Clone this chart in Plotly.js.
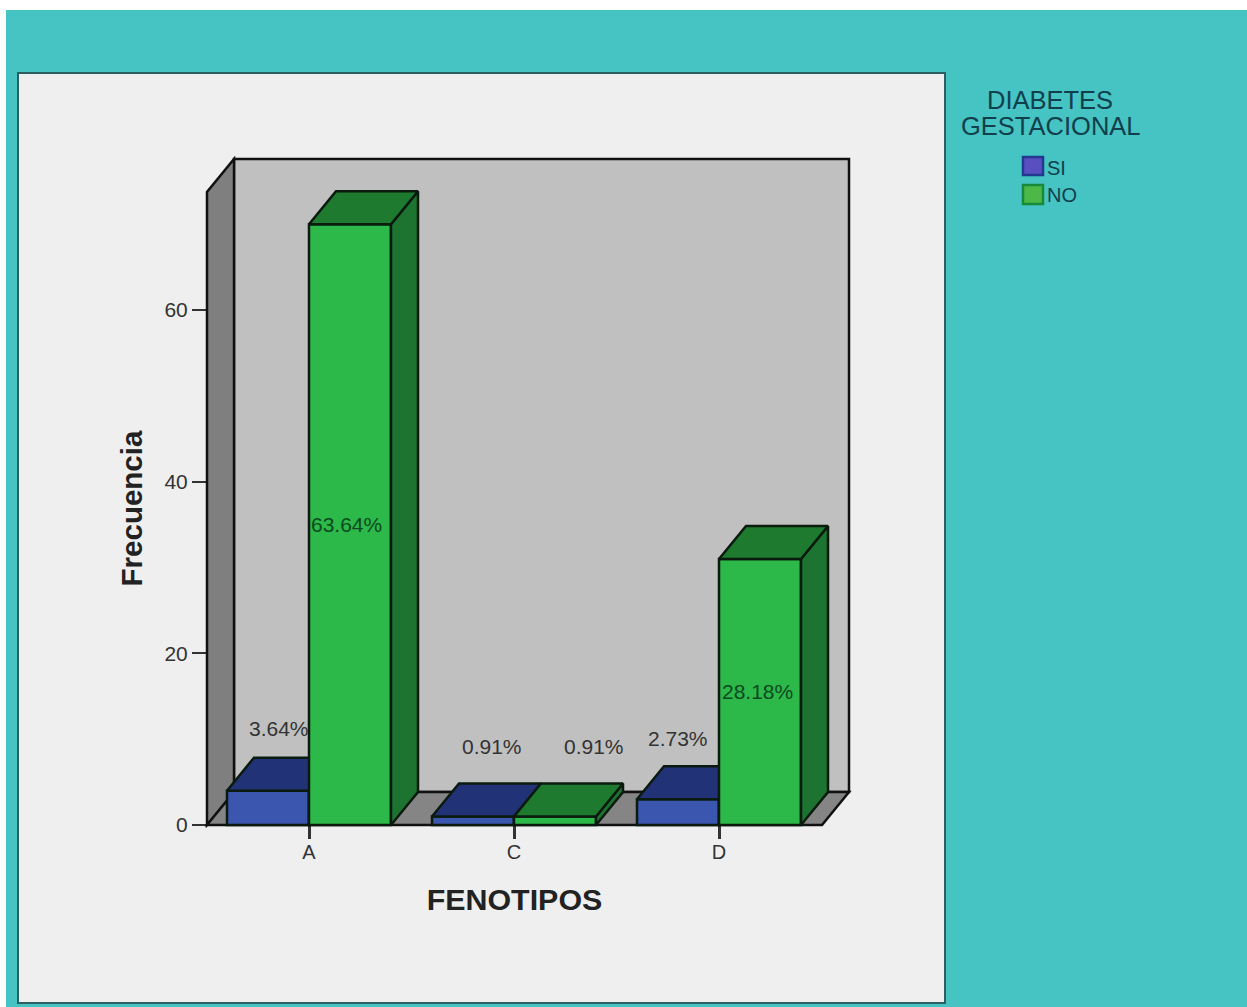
<!DOCTYPE html>
<html>
<head>
<meta charset="utf-8">
<script src="https://cdn.plot.ly/plotly-3.0.1.min.js"></script>
<style>html,body{margin:0;padding:0;background:#fff}</style>
</head>
<body>
<div id="chart" style="width:1247px;height:1007px"></div>
<script>
// Frequencies of gestational diabetes by phenotype
const categories = ['A', 'C', 'D'];
const valuesSi = [4, 1, 3];
const valuesNo = [70, 1, 31];
const total = 110;
const yTicks = [0, 20, 40, 60];

// Label anchors, in axis units
const labelXSi = [-0.146, 0.893, 1.8];
const labelYSi = [11.3, 9.2, 10.1];
const labelXNo = [0.185, 1.39, 2.19];
const labelYNo = [35, 9.2, 15.5];

const W = 1247, H = 1007;
const unitX = 205, unitY = 8.583;           // pixels per category / per count
const originX = 309, originY = 825;         // pixel position of category A at zero
const frontBox = {l: 207, r: 822, t: 192, b: 825};
const fullBox = {l: 204, r: 853, t: 156, b: 828};
const barW = 0.4;
const depthX = 27 / unitX, depthY = 33 / unitY;

const domX = b => [b.l / W, b.r / W];
const domY = b => [1 - b.b / H, 1 - b.t / H];
const rngX = b => [(b.l - originX) / unitX, (b.r - originX) / unitX];
const rngY = b => [(originY - b.b) / unitY, (originY - b.t) / unitY];
const px = x => x / W, py = y => 1 - y / H;

// Top and side faces of the extruded bars, one polygon per category
function topFaces(vals, x0) {
  const xs = [], ys = [];
  vals.forEach((v, i) => {
    const a = i + x0, b = a + barW;
    xs.push(a, b, b + depthX, a + depthX, a, null);
    ys.push(v, v, v + depthY, v + depthY, v, null);
  });
  return {x: xs, y: ys};
}
function sideFaces(vals, x0) {
  const xs = [], ys = [];
  vals.forEach((v, i) => {
    const b = i + x0 + barW;
    xs.push(b, b + depthX, b + depthX, b, b, null);
    ys.push(0, depthY, v + depthY, v, 0, null);
  });
  return {x: xs, y: ys};
}
const edge = {color: '#0b1a0f', width: 2.5};
const face = (pts, color, xa, ya) => ({
  type: 'scatter', mode: 'lines', x: pts.x, y: pts.y, fill: 'toself', fillcolor: color,
  line: edge, xaxis: xa, yaxis: ya, hoverinfo: 'skip', showlegend: false
});
const front = (vals, x0, color, xa, ya, name) => ({
  type: 'bar', name, x: categories.map((_, i) => i), y: vals, width: barW, offset: x0,
  marker: {color, line: edge}, xaxis: xa, yaxis: ya, showlegend: false
});

const xSi = -barW, xNo = 0;
const data = [
  // Empty trace that keeps the front-plane axes, which carry ticks and titles
  {type: 'scatter', mode: 'none', x: [0], y: [0], xaxis: 'x', yaxis: 'y', hoverinfo: 'skip', showlegend: false},
  front(valuesSi, xSi, '#3B56AE', 'x2', 'y2', 'SI'),
  face(sideFaces(valuesSi, xSi), '#213277', 'x2', 'y2'),
  face(topFaces(valuesSi, xSi), '#213277', 'x2', 'y2'),
  front(valuesNo, xNo, '#2DB84A', 'x3', 'y3', 'NO'),
  face(sideFaces(valuesNo, xNo), '#1C7430', 'x3', 'y3'),
  face(topFaces(valuesNo, xNo), '#1E7A2E', 'x3', 'y3')
];

// Walls and floor of the 3D box, in axis units
const wallX0 = (frontBox.l - originX) / unitX, wallX1 = (frontBox.r - originX) / unitX;
const wallTop = (originY - frontBox.t) / unitY;
const poly = pts => 'M' + pts.map(p => p[0] + ',' + p[1]).join(' L') + ' Z';
const wall = (pts, color) => ({
  type: 'path', xref: 'x2', yref: 'y2', layer: 'below', path: poly(pts), fillcolor: color,
  line: {color: '#111', width: 2.5}
});
const rectPx = (x0, y0, x1, y1, fill, line) => ({
  type: 'rect', xref: 'paper', yref: 'paper', layer: 'below',
  x0: px(x0), x1: px(x1), y0: py(y0), y1: py(y1), fillcolor: fill, line
});

const shapes = [
  rectPx(6, 10, W, H, '#46C3C3', {width: 0}),
  rectPx(18, 73, 945, 1003, '#EFEFEF', {color: '#2D5F62', width: 2}),
  wall([[wallX0 + depthX, depthY], [wallX1 + depthX, depthY], [wallX1 + depthX, wallTop + depthY], [wallX0 + depthX, wallTop + depthY]], '#C0C0C0'),
  wall([[wallX0, 0], [wallX0, wallTop], [wallX0 + depthX, wallTop + depthY], [wallX0 + depthX, depthY]], '#7F7F7F'),
  wall([[wallX0, 0], [wallX0 + depthX, depthY], [wallX1 + depthX, depthY], [wallX1, 0]], '#858585'),
  rectPx(1023, 157, 1043, 175, '#5A4FC0', {color: '#23398F', width: 2.5}),
  rectPx(1023, 185, 1043, 204, '#4DB848', {color: '#178A3A', width: 2.5})
];

const font = 'Liberation Sans, Arial, sans-serif';
const textAt = (text, x, y, size, color, extra) => Object.assign({
  text, x: px(x), y: py(y), xref: 'paper', yref: 'paper', showarrow: false,
  font: {family: font, size, color}, xanchor: 'center', yanchor: 'middle'
}, extra || {});

const annotations = [
  textAt('DIABETES', 1049.5, 100, 25.5, '#123F4C'),
  textAt('GESTACIONAL', 1050.5, 126, 25.5, '#123F4C'),
  textAt('SI', 1045, 168, 20, '#123F4C', {xanchor: 'left'}),
  textAt('NO', 1045, 195, 20, '#123F4C', {xanchor: 'left'})
];
const pct = v => (v / total * 100).toFixed(2) + '%';
valuesSi.forEach((v, i) => annotations.push({
  text: pct(v), x: labelXSi[i], y: labelYSi[i], xref: 'x3', yref: 'y3', showarrow: false,
  font: {family: font, size: 21, color: '#333'}
}));
valuesNo.forEach((v, i) => annotations.push({
  text: pct(v), x: labelXNo[i], y: labelYNo[i], xref: 'x3', yref: 'y3', showarrow: false,
  font: {family: font, size: 21, color: v > 10 ? '#0C4A20' : '#333'}
}));

const hidden = {visible: false, fixedrange: true};
const layout = {
  width: W, height: H, autosize: false,
  margin: {l: 0, r: 0, t: 0, b: 0},
  paper_bgcolor: '#fff', plot_bgcolor: 'rgba(0,0,0,0)',
  showlegend: false, barmode: 'overlay',
  font: {family: font, color: '#333'},
  xaxis: {
    domain: domX(frontBox), range: rngX(frontBox), anchor: 'y',
    tickmode: 'array', tickvals: categories.map((_, i) => i), ticktext: categories,
    ticks: 'outside', ticklen: 13, tickwidth: 2.5, tickcolor: '#333',
    ticklabelstandoff: -4,
    showgrid: false, zeroline: false, showline: false,
    tickfont: {family: font, size: 20, color: '#333'},
    title: {text: 'FENOTIPOS', standoff: 26, font: {family: font, size: 30.4, color: '#222', weight: 'bold'}}
  },
  yaxis: {
    domain: domY(frontBox), range: rngY(frontBox), anchor: 'x',
    tickmode: 'array', tickvals: yTicks,
    ticks: 'outside', ticklen: 14, tickwidth: 2, tickcolor: '#333',
    showgrid: false, zeroline: false, showline: false,
    tickfont: {family: font, size: 21, color: '#333'},
    title: {text: 'Frecuencia', standoff: 13, font: {family: font, size: 29.5, color: '#222', weight: 'bold'}}
  },
  xaxis2: Object.assign({domain: domX(fullBox), range: rngX(fullBox), anchor: 'y2'}, hidden),
  yaxis2: Object.assign({domain: domY(fullBox), range: rngY(fullBox), anchor: 'x2'}, hidden),
  xaxis3: Object.assign({overlaying: 'x2', range: rngX(fullBox), anchor: 'y3'}, hidden),
  yaxis3: Object.assign({overlaying: 'y2', range: rngY(fullBox), anchor: 'x3'}, hidden),
  shapes, annotations
};

Plotly.newPlot('chart', data, layout, {displayModeBar: false, responsive: false});
</script>
</body>
</html>
